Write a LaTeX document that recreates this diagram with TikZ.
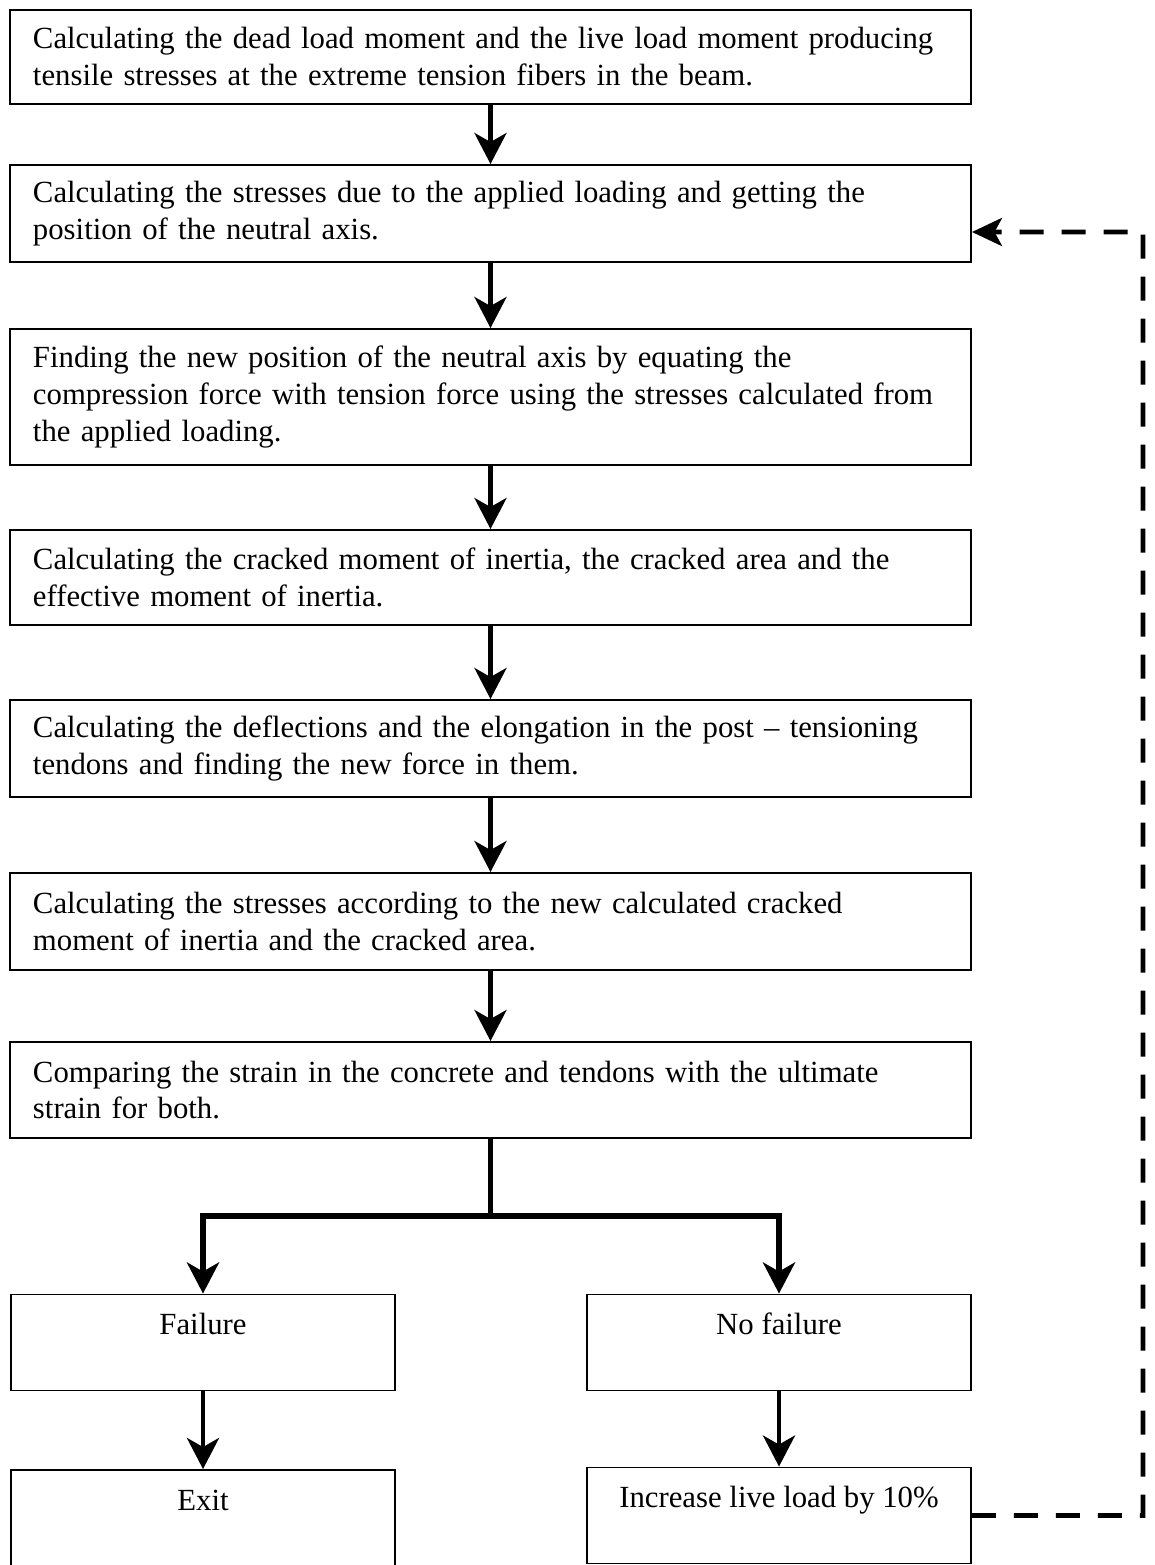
\documentclass[tikz,border=0pt]{standalone}
\usepackage{fontspec}
\setmainfont{Liberation Serif}
\usetikzlibrary{arrows.meta}

\begin{document}
\begin{tikzpicture}[x=0.2mm, y=-0.2mm,
    stepbox/.style={draw, line width=1.1pt, text width=183mm, inner xsep=4.6mm, inner ysep=0pt, align=left, font=\fontsize{17.5pt}{21pt}\selectfont},
    endbox/.style={draw, line width=1.1pt, minimum width=76.8mm, inner xsep=0pt, inner ysep=0pt, text height=8mm, text depth=11.2mm, font=\fontsize{17.5pt}{21pt}\selectfont},
    flow/.style={line width=2.6pt, -{Stealth[length=6.2mm, width=6.4mm, inset=1.8mm]}},
    loopline/.style={line width=2.8pt, dash pattern=on 4.8mm off 3.6mm, -{Stealth[length=6mm, width=5.6mm, inset=1.5mm]}}]
    \useasboundingbox (0,0) rectangle (1154,1565);
    \node[stepbox, minimum height=18.8mm] (moment) at (490.5,57) {Calculating the dead load moment and the live load moment producing\\ tensile stresses at the extreme tension fibers in the beam.};
    \node[stepbox, minimum height=19.4mm] (stress) at (490.5,213.5) {Calculating the stresses due to the applied loading and getting the\\ position of the neutral axis.};
    \node[stepbox, minimum height=27.2mm] (axis) at (490.5,397) {Finding the new position of the neutral axis by equating the\\ compression force with tension force using the stresses calculated from\\ the applied loading.};
    \node[stepbox, minimum height=19mm] (inertia) at (490.5,577.5) {Calculating the cracked moment of inertia, the cracked area and the\\ effective moment of inertia.};
    \node[stepbox, minimum height=19.4mm] (deflect) at (490.5,748.5) {Calculating the deflections and the elongation in the post -- tensioning\\ tendons and finding the new force in them.};
    \node[stepbox, minimum height=19.4mm] (restress) at (490.5,921.5) {Calculating the stresses according to the new calculated cracked\\ moment of inertia and the cracked area.};
    \node[stepbox, minimum height=19.2mm] (strain) at (490.5,1090) {Comparing the strain in the concrete and tendons with the ultimate\\ strain for both.};
    \node[endbox] (fail) at (203,1342.5) {Failure};
    \node[endbox] (nofail) at (779,1342.5) {No failure};
    \node[endbox] (exit) at (203,1518) {Exit};
    \node[endbox] (increase) at (779,1515.5) {Increase live load by 10\%};
    \coordinate (split) at (490.5,1216);
    \coordinate (loop) at (1143,232);
    \draw[flow] (moment) -- (stress);
    \draw[flow] (stress) -- (axis);
    \draw[flow] (axis) -- (inertia);
    \draw[flow] (inertia) -- (deflect);
    \draw[flow] (deflect) -- (restress);
    \draw[flow] (restress) -- (strain);
    \draw[line width=2.6pt] (strain) -- (split);
    \draw[flow, line width=3.2pt] (split) -| (fail);
    \draw[flow, line width=3.2pt] (split) -| (nofail);
    \draw[flow] (fail) -- (exit);
    \draw[flow] (nofail) -- (increase);
    \draw[loopline] (increase.east) -| (loop) -- ([yshift=-3.7mm]stress.east);
  \end{tikzpicture}
\end{document}
